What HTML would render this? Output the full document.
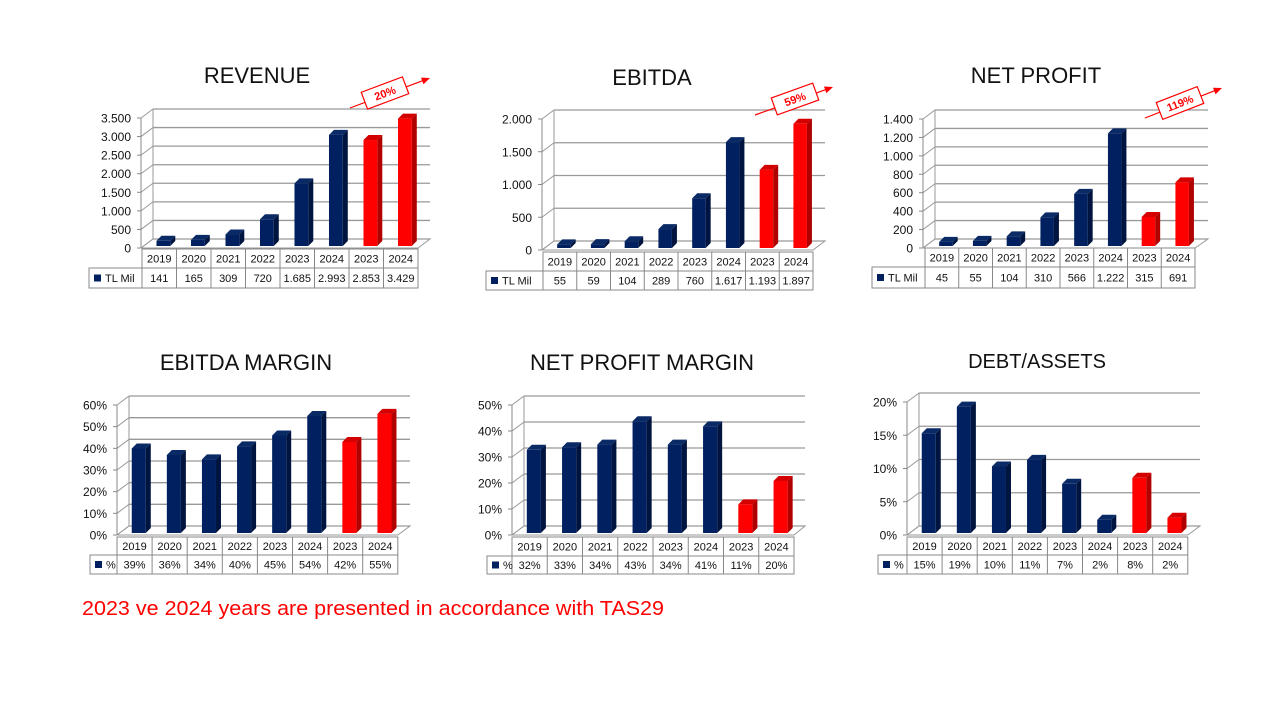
<!DOCTYPE html>
<html><head><meta charset="utf-8"><style>
body{margin:0;background:#fff;}
svg{display:block;font-family:"Liberation Sans",sans-serif;}
</style></head><body>
<svg id="s" width="1280" height="720" xmlns="http://www.w3.org/2000/svg"></svg>
<script>
const th=v=>v>=1000?Math.floor(v/1000)+"."+String(v%1000).padStart(3,"0"):String(v);
const charts=[
{t:"REVENUE",tx:257,ty:83,ts:22,ax:141,top:118,zero:248,max:3500,step:500,fmt:th,
 tx0:142,cw:34.5,r:[249,268,288],lx:89,leg:"TL Mil",vals:[141,165,309,720,1685,2993,2853,3429],lab:["141","165","309","720","1.685","2.993","2.853","3.429"],br:430,arrow:[385,93,"20%",350,108,430,78]},
{t:"EBITDA",tx:652,ty:85,ts:22,ax:542,top:119,zero:250,max:2000,step:500,fmt:th,
 tx0:543,cw:33.75,r:[252,271,290],lx:486,leg:"TL Mil",vals:[55,59,104,289,760,1617,1193,1897],lab:["55","59","104","289","760","1.617","1.193","1.897"],br:825,arrow:[795,99,"59%",755,115,833,87]},
{t:"NET PROFIT",tx:1036,ty:83,ts:22,ax:923,top:119,zero:248,max:1400,step:200,fmt:th,
 tx0:925,cw:33.75,r:[248,267,288],lx:872,leg:"TL Mil",vals:[45,55,104,310,566,1222,315,691],lab:["45","55","104","310","566","1.222","315","691"],br:1208,arrow:[1180,103,"119%",1145,118,1222,88]},
{t:"EBITDA MARGIN",tx:246,ty:370,ts:22,ax:117,top:405,zero:535,max:60,step:10,fmt:v=>v+"%",
 tx0:117,cw:35.1,r:[537,555,574],lx:90,leg:"%",vals:[39,36,34,40,45,54,42,55],lab:["39%","36%","34%","40%","45%","54%","42%","55%"],br:410},
{t:"NET PROFIT MARGIN",tx:642,ty:370,ts:22,ax:512,top:405,zero:535,max:50,step:10,fmt:v=>v+"%",
 tx0:512,cw:35.25,r:[537,556,574],lx:487,leg:"%",vals:[32,33,34,43,34,41,11,20],lab:["32%","33%","34%","43%","34%","41%","11%","20%"],br:805},
{t:"DEBT/ASSETS",tx:1037,ty:368,ts:20,ax:907,top:402,zero:535,max:20,step:5,fmt:v=>v+"%",
 tx0:907,cw:35.1,r:[537,555,574],lx:878,leg:"%",vals:[15,19,10,11,7.4,2,8.3,2.3],lab:["15%","19%","10%","11%","7%","2%","8%","2%"],br:1200}
];
const yrs=["2019","2020","2021","2022","2023","2024","2023","2024"];
let h="";
const DX=12,DY=9;
for(const c of charts){
 h+=`<text x="${c.tx}" y="${c.ty}" font-size="${c.ts}" text-anchor="middle" fill="#111">${c.t}</text>`;
 const sc=(c.zero-c.top)/c.max;
 for(let v=0;v<=c.max;v+=c.step){
  const y=c.zero-v*sc;
  h+=`<line x1="${c.ax}" y1="${y}" x2="${c.ax+DX}" y2="${y-DY}" stroke="#999" stroke-width="1"/>`;
  h+=`<line x1="${c.ax+DX}" y1="${y-DY}" x2="${c.br}" y2="${y-DY}" stroke="#999" stroke-width="1.3"/>`;
  h+=`<line x1="${c.ax-4}" y1="${y}" x2="${c.ax}" y2="${y}" stroke="#888"/>`;
  h+=`<text x="${c.ax-10}" y="${y+4.5}" font-size="12" text-anchor="end" fill="#111">${c.fmt(v)}</text>`;
 }
 h+=`<line x1="${c.ax+DX}" y1="${c.top-DY}" x2="${c.ax+DX}" y2="${c.zero-DY}" stroke="#999"/>`;
 h+=`<line x1="${c.ax}" y1="${c.top}" x2="${c.ax}" y2="${c.zero}" stroke="#888"/>`;
 const tw=c.cw*8;
 h+=`<polygon points="${c.ax},${c.zero} ${c.tx0+tw},${c.zero} ${c.br},${c.zero-DY} ${c.ax+DX},${c.zero-DY}" fill="none" stroke="#999"/>`;
 c.vals.forEach((v,i)=>{
  const red=i>=6;
  const x=c.tx0+i*c.cw+0.42*c.cw, w=0.4*c.cw, d=5;
  const yb=c.zero-2, yt=yb-v*sc;
  const f=red?"#ff0000":"#002060", s=red?"#b00000":"#001440", tp=red?"#d40000":"#0a2a66";
  h+=`<polygon points="${x+w},${yb} ${x+w+d},${yb-d} ${x+w+d},${yt-d} ${x+w},${yt}" fill="${s}"/>`;
  h+=`<polygon points="${x},${yt} ${x+d},${yt-d} ${x+w+d},${yt-d} ${x+w},${yt}" fill="${tp}"/>`;
  h+=`<rect x="${x}" y="${yt}" width="${w}" height="${yb-yt}" fill="${f}"/>`;
 });
 const [r0,r1,r2]=c.r;
 h+=`<g stroke="#888" fill="none" stroke-width="1">`;
 h+=`<rect x="${c.tx0}" y="${r0}" width="${tw}" height="${r2-r0}"/>`;
 h+=`<rect x="${c.lx}" y="${r1}" width="${c.tx0-c.lx}" height="${r2-r1}"/>`;
 h+=`<line x1="${c.tx0}" y1="${r1}" x2="${c.tx0+tw}" y2="${r1}"/>`;
 for(let i=1;i<8;i++)h+=`<line x1="${c.tx0+i*c.cw}" y1="${r0}" x2="${c.tx0+i*c.cw}" y2="${r2}"/>`;
 h+=`</g>`;
 for(let i=0;i<8;i++){
  const cx=c.tx0+(i+.5)*c.cw;
  h+=`<text x="${cx}" y="${(r0+r1)/2+4}" font-size="11" text-anchor="middle" fill="#111">${yrs[i]}</text>`;
  h+=`<text x="${cx}" y="${(r1+r2)/2+4}" font-size="11" text-anchor="middle" fill="#111">${c.lab[i]}</text>`;
 }
 h+=`<rect x="${c.lx+5}" y="${(r1+r2)/2-3.5}" width="7" height="7" fill="#002060"/>`;
 h+=`<text x="${c.lx+16}" y="${(r1+r2)/2+4}" font-size="11" fill="#111">${c.leg}</text>`;
 if(c.arrow){
  const [bx,by,txt,x1,y1,x2,y2]=c.arrow;
  h+=`<line x1="${x1}" y1="${y1}" x2="${x2-6}" y2="${y2+2.2}" stroke="#ff0000" stroke-width="1.2"/>`;
  const ang=Math.atan2(y2-y1,x2-x1), hx=x2, hy=y2;
  const p=(a,l)=>`${hx-l*Math.cos(ang+a)},${hy-l*Math.sin(ang+a)}`;
  h+=`<polygon points="${hx},${hy} ${p(0.4,9)} ${p(-0.4,9)}" fill="#ff0000"/>`;
  const deg=ang*180/Math.PI;
  h+=`<g transform="translate(${bx},${by}) rotate(${deg})"><rect x="-22" y="-9" width="44" height="18" fill="#fff" stroke="#ff0000" stroke-width="1.2"/><text x="0" y="4" font-size="11" font-weight="bold" text-anchor="middle" fill="#ff0000">${txt}</text></g>`;
 }
}
h+=`<text x="82" y="615" font-size="20" fill="#ff0000" textLength="582" lengthAdjust="spacingAndGlyphs">2023 ve 2024 years are presented in accordance with TAS29</text>`;
document.getElementById("s").innerHTML=h;
</script>
</body></html>
